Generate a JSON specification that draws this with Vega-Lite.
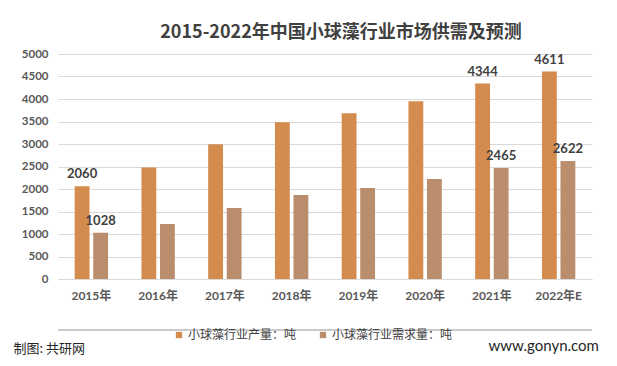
{
  "$schema": "https://vega.github.io/schema/vega-lite/v6.json",
  "width": 534,
  "height": 225,
  "autosize": {"type": "none"},
  "padding": {"left": 58, "top": 54, "right": 25, "bottom": 87},
  "background": "white",
  "config": {"view": {"stroke": null}},
  "title": {
    "text": "2015-2022年中国小球藻行业市场供需及预测",
    "font": "Noto Sans CJK SC",
    "fontSize": 18,
    "fontWeight": "bold",
    "color": "#404040",
    "anchor": "middle",
    "dx": 16,
    "offset": 6
  },
  "data": {
    "values": [
      {"year": "2015年", "series": "小球藻行业产量：吨", "value": 2060, "labeled": true},
      {"year": "2015年", "series": "小球藻行业需求量：吨", "value": 1028, "labeled": true},
      {"year": "2016年", "series": "小球藻行业产量：吨", "value": 2480, "labeled": false},
      {"year": "2016年", "series": "小球藻行业需求量：吨", "value": 1222, "labeled": false},
      {"year": "2017年", "series": "小球藻行业产量：吨", "value": 2993, "labeled": false},
      {"year": "2017年", "series": "小球藻行业需求量：吨", "value": 1578, "labeled": false},
      {"year": "2018年", "series": "小球藻行业产量：吨", "value": 3481, "labeled": false},
      {"year": "2018年", "series": "小球藻行业需求量：吨", "value": 1867, "labeled": false},
      {"year": "2019年", "series": "小球藻行业产量：吨", "value": 3682, "labeled": false},
      {"year": "2019年", "series": "小球藻行业需求量：吨", "value": 2022, "labeled": false},
      {"year": "2020年", "series": "小球藻行业产量：吨", "value": 3948, "labeled": false},
      {"year": "2020年", "series": "小球藻行业需求量：吨", "value": 2222, "labeled": false},
      {"year": "2021年", "series": "小球藻行业产量：吨", "value": 4344, "labeled": true},
      {"year": "2021年", "series": "小球藻行业需求量：吨", "value": 2465, "labeled": true},
      {"year": "2022年E", "series": "小球藻行业产量：吨", "value": 4611, "labeled": true},
      {"year": "2022年E", "series": "小球藻行业需求量：吨", "value": 2622, "labeled": true}
    ]
  },
  "resolve": {"scale": {"y": "independent"}},
  "layer": [
    {
      "encoding": {
        "x": {
          "field": "year",
          "type": "nominal",
          "sort": null,
          "scale": {"paddingInner": 0.5, "paddingOuter": 0.25},
          "axis": {
            "title": "制图: 共研网",
            "titleFont": "Noto Sans CJK SC",
            "titleFontSize": 13,
            "titleFontWeight": "normal",
            "titleColor": "#262626",
            "titleAnchor": "start",
            "titleAlign": "left",
            "titleBaseline": "alphabetic",
            "titleX": -45,
            "titleY": 73,
            "labelAngle": 0,
            "labelFont": "Lato, Noto Sans CJK SC",
            "labelFontSize": 12,
            "labelFontWeight": "bold",
            "labelColor": "#595959",
            "labelPadding": 11,
            "ticks": false,
            "domainColor": "#d9d9d9",
            "domainWidth": 1
          }
        },
        "xOffset": {"field": "series", "type": "nominal", "sort": null, "scale": {"paddingInner": 0.2}},
        "y": {
          "field": "value",
          "type": "quantitative",
          "scale": {"domain": [0, 5000], "nice": false},
          "axis": {
            "values": [0, 500, 1000, 1500, 2000, 2500, 3000, 3500, 4000, 4500, 5000],
            "tickCount": 20,
            "format": "d",
            "labelOverlap": false,
            "title": "www.gonyn.com",
            "titleFont": "Lato, Noto Sans",
            "titleFontSize": 15,
            "titleFontWeight": "normal",
            "titleColor": "#262626",
            "titleAngle": 0,
            "titleAlign": "left",
            "titleBaseline": "alphabetic",
            "titleX": 430,
            "titleY": 296,
            "labelFont": "Lato, Noto Sans CJK SC",
            "labelFontSize": 11.5,
            "labelFontWeight": "bold",
            "labelColor": "#595959",
            "labelPadding": 10,
            "ticks": false,
            "domain": false,
            "gridColor": "#d9d9d9",
            "gridWidth": 1
          }
        }
      },
      "layer": [
        {
          "mark": {"type": "bar"},
          "encoding": {
            "color": {
              "field": "series",
              "type": "nominal",
              "sort": null,
              "scale": {"range": ["#D38B4E", "#BA8D6D"]},
              "legend": {
                "title": null,
                "orient": "none",
                "direction": "horizontal",
                "legendX": 115,
                "legendY": 275,
                "symbolType": "square",
                "symbolSize": 40,
                "labelFont": "Noto Sans CJK SC",
                "labelFontSize": 12,
                "labelColor": "#404040",
                "columnPadding": 20,
                "labelOffset": 3
              }
            }
          }
        },
        {
          "transform": [{"filter": "datum.labeled"}],
          "mark": {
            "type": "text",
            "baseline": "bottom",
            "dy": -5,
            "font": "Lato",
            "fontSize": 13,
            "fontWeight": "bold",
            "color": "#404040"
          },
          "encoding": {
            "text": {"field": "value", "type": "quantitative", "format": "d"}
          }
        }
      ]
    },
    {
      "mark": {"type": "rule", "color": "#cccccc", "strokeWidth": 1, "clip": false},
      "encoding": {
        "y": {
          "datum": -1130,
          "type": "quantitative",
          "scale": {"domain": [0, 5000], "nice": false, "clamp": false},
          "axis": null
        }
      }
    }
  ]
}
